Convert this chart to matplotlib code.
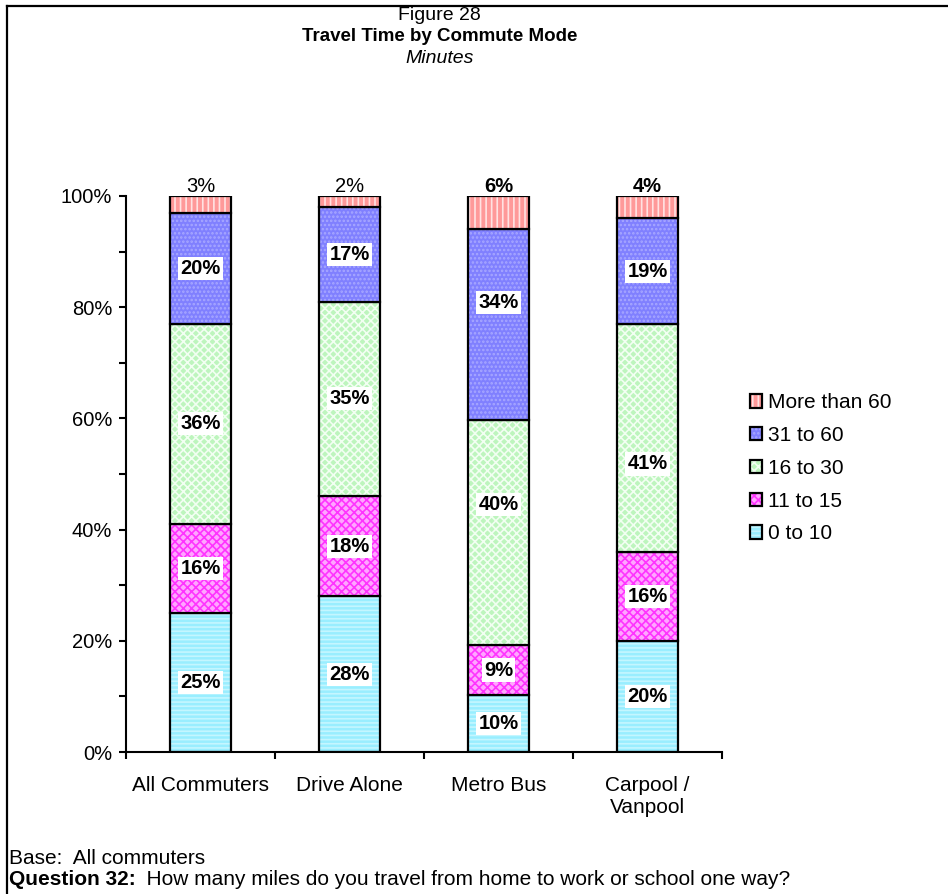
import matplotlib.pyplot as plt
from matplotlib.patches import Patch
from matplotlib.lines import Line2D
import numpy as np

plt.rcParams['font.family'] = ['Liberation Sans', 'DejaVu Sans']
plt.rcParams['hatch.linewidth'] = 1.2

# data (percent of commuters)
modes = ['All Commuters', 'Drive Alone', 'Metro Bus', 'Carpool /\nVanpool']
bands = ['0 to 10', '11 to 15', '16 to 30', '31 to 60', 'More than 60']
min_0_10 = [25, 28, 10.2, 20]
min_11_15 = [16, 18, 9.1, 16]
min_16_30 = [36, 35, 40.4, 41]
min_31_60 = [20, 17, 34.4, 19]
min_60_up = [3, 2, 5.9, 4]
series = [min_0_10, min_11_15, min_16_30, min_31_60, min_60_up]

# look of each band
fills = ['#99EEFF', '#FFA6FF', '#BDF5BD', '#8080FF', '#FF9999']
hatch_cols = ['#C4F6FF', '#FF33FF', '#F2FFF2', '#A8A8FF', '#FFE2E2']
hatches = ['----', 'xxxx', 'xxxx', '....', '|||']
top_bold = [False, False, True, True]
# hand-moved labels in the original (mode index, band index) -> shift in %
nudge = {(2, 2): 5.0, (2, 3): 3.9, (3, 2): -4.7}

fig = plt.figure(figsize=(9.48, 8.94), dpi=100)
ax = fig.add_axes([0.1329, 0.1588, 0.6287, 0.622])

x = np.arange(len(modes))
w = 0.405
bottom = np.zeros(len(modes))
handles = []
for i, vals in enumerate(series):
    vals = np.array(vals)
    ax.bar(x, vals, w, bottom=bottom, color=fills[i], edgecolor=hatch_cols[i],
           hatch=hatches[i], linewidth=0)
    ax.bar(x, vals, w, bottom=bottom, fill=False, edgecolor='black', linewidth=1.6)
    for j, v in enumerate(vals):
        if i < len(series) - 1:
            yc = bottom[j] + v / 2 + nudge.get((j, i), 0)
            ax.text(x[j], yc, '%d%%' % round(v), ha='center', va='center',
                    fontsize=14.5, fontweight='bold',
                    bbox=dict(facecolor='white', edgecolor='none', pad=1.5))
        else:
            ax.annotate('%d%%' % round(v), (x[j], bottom[j] + v), xytext=(0, 0),
                        textcoords='offset points', ha='center', va='bottom',
                        fontsize=14.5,
                        fontweight='bold' if top_bold[j] else 'normal')
    bottom = bottom + vals
    h1 = Patch(facecolor=fills[i], edgecolor=hatch_cols[i], hatch=hatches[i], linewidth=0)
    h2 = Patch(fill=False, edgecolor='black', linewidth=1.6)
    handles.append((h1, h2))

ax.set_xlim(-0.5, 3.5)
ax.set_ylim(0, 100)
ax.set_xticks(x)
ax.set_xticklabels(modes, fontsize=15)
ax.set_xticks(np.arange(-0.5, 4.0, 1.0), minor=True)
ax.set_yticks(np.arange(0, 101, 20))
ax.set_yticklabels(['%d%%' % t for t in range(0, 101, 20)], fontsize=14.5)
ax.set_yticks(np.arange(0, 101, 10), minor=True)
ax.tick_params(axis='x', which='major', length=0, pad=17)
ax.tick_params(axis='x', which='minor', length=5, width=1.5, direction='out')
ax.tick_params(axis='y', which='both', length=5, width=1.5, direction='out', pad=5)
for s in ['top', 'right']:
    ax.spines[s].set_visible(False)
for s in ['left', 'bottom']:
    ax.spines[s].set_linewidth(1.5)

leg = fig.legend(handles[::-1], bands[::-1], loc='upper left',
                 bbox_to_anchor=(0.771, 0.581), frameon=False, fontsize=15,
                 handlelength=0.6, handleheight=0.6, handletextpad=0.3,
                 labelspacing=0.66)

fig.text(0.464, 0.983, 'Figure 28', ha='center', va='center', fontsize=14)
fig.text(0.464, 0.959, 'Travel Time by Commute Mode', ha='center', va='center',
         fontsize=13.5, fontweight='bold')
fig.text(0.464, 0.935, 'Minutes', ha='center', va='center', fontsize=14,
         style='italic')

fig.text(0.009, 0.040, 'Base:  All commuters', ha='left', va='center', fontsize=15)
t = fig.text(0.009, 0.016, 'Question 32:', ha='left', va='center', fontsize=15,
             fontweight='bold')
fig.canvas.draw()
bb = t.get_window_extent()
fig.text(bb.x1 / fig.bbox.width, 0.016,
         '  How many miles do you travel from home to work or school one way?',
         ha='left', va='center', fontsize=15)

# frame lines along the top and left of the page
fig.add_artist(Line2D([0.0074, 1.0], [0.9936, 0.9936], color='black', linewidth=1.6,
                      transform=fig.transFigure))
fig.add_artist(Line2D([0.0074, 0.0074], [0.0, 0.9936], color='black', linewidth=1.6,
                      transform=fig.transFigure))

fig.savefig('out.png', dpi=100)
